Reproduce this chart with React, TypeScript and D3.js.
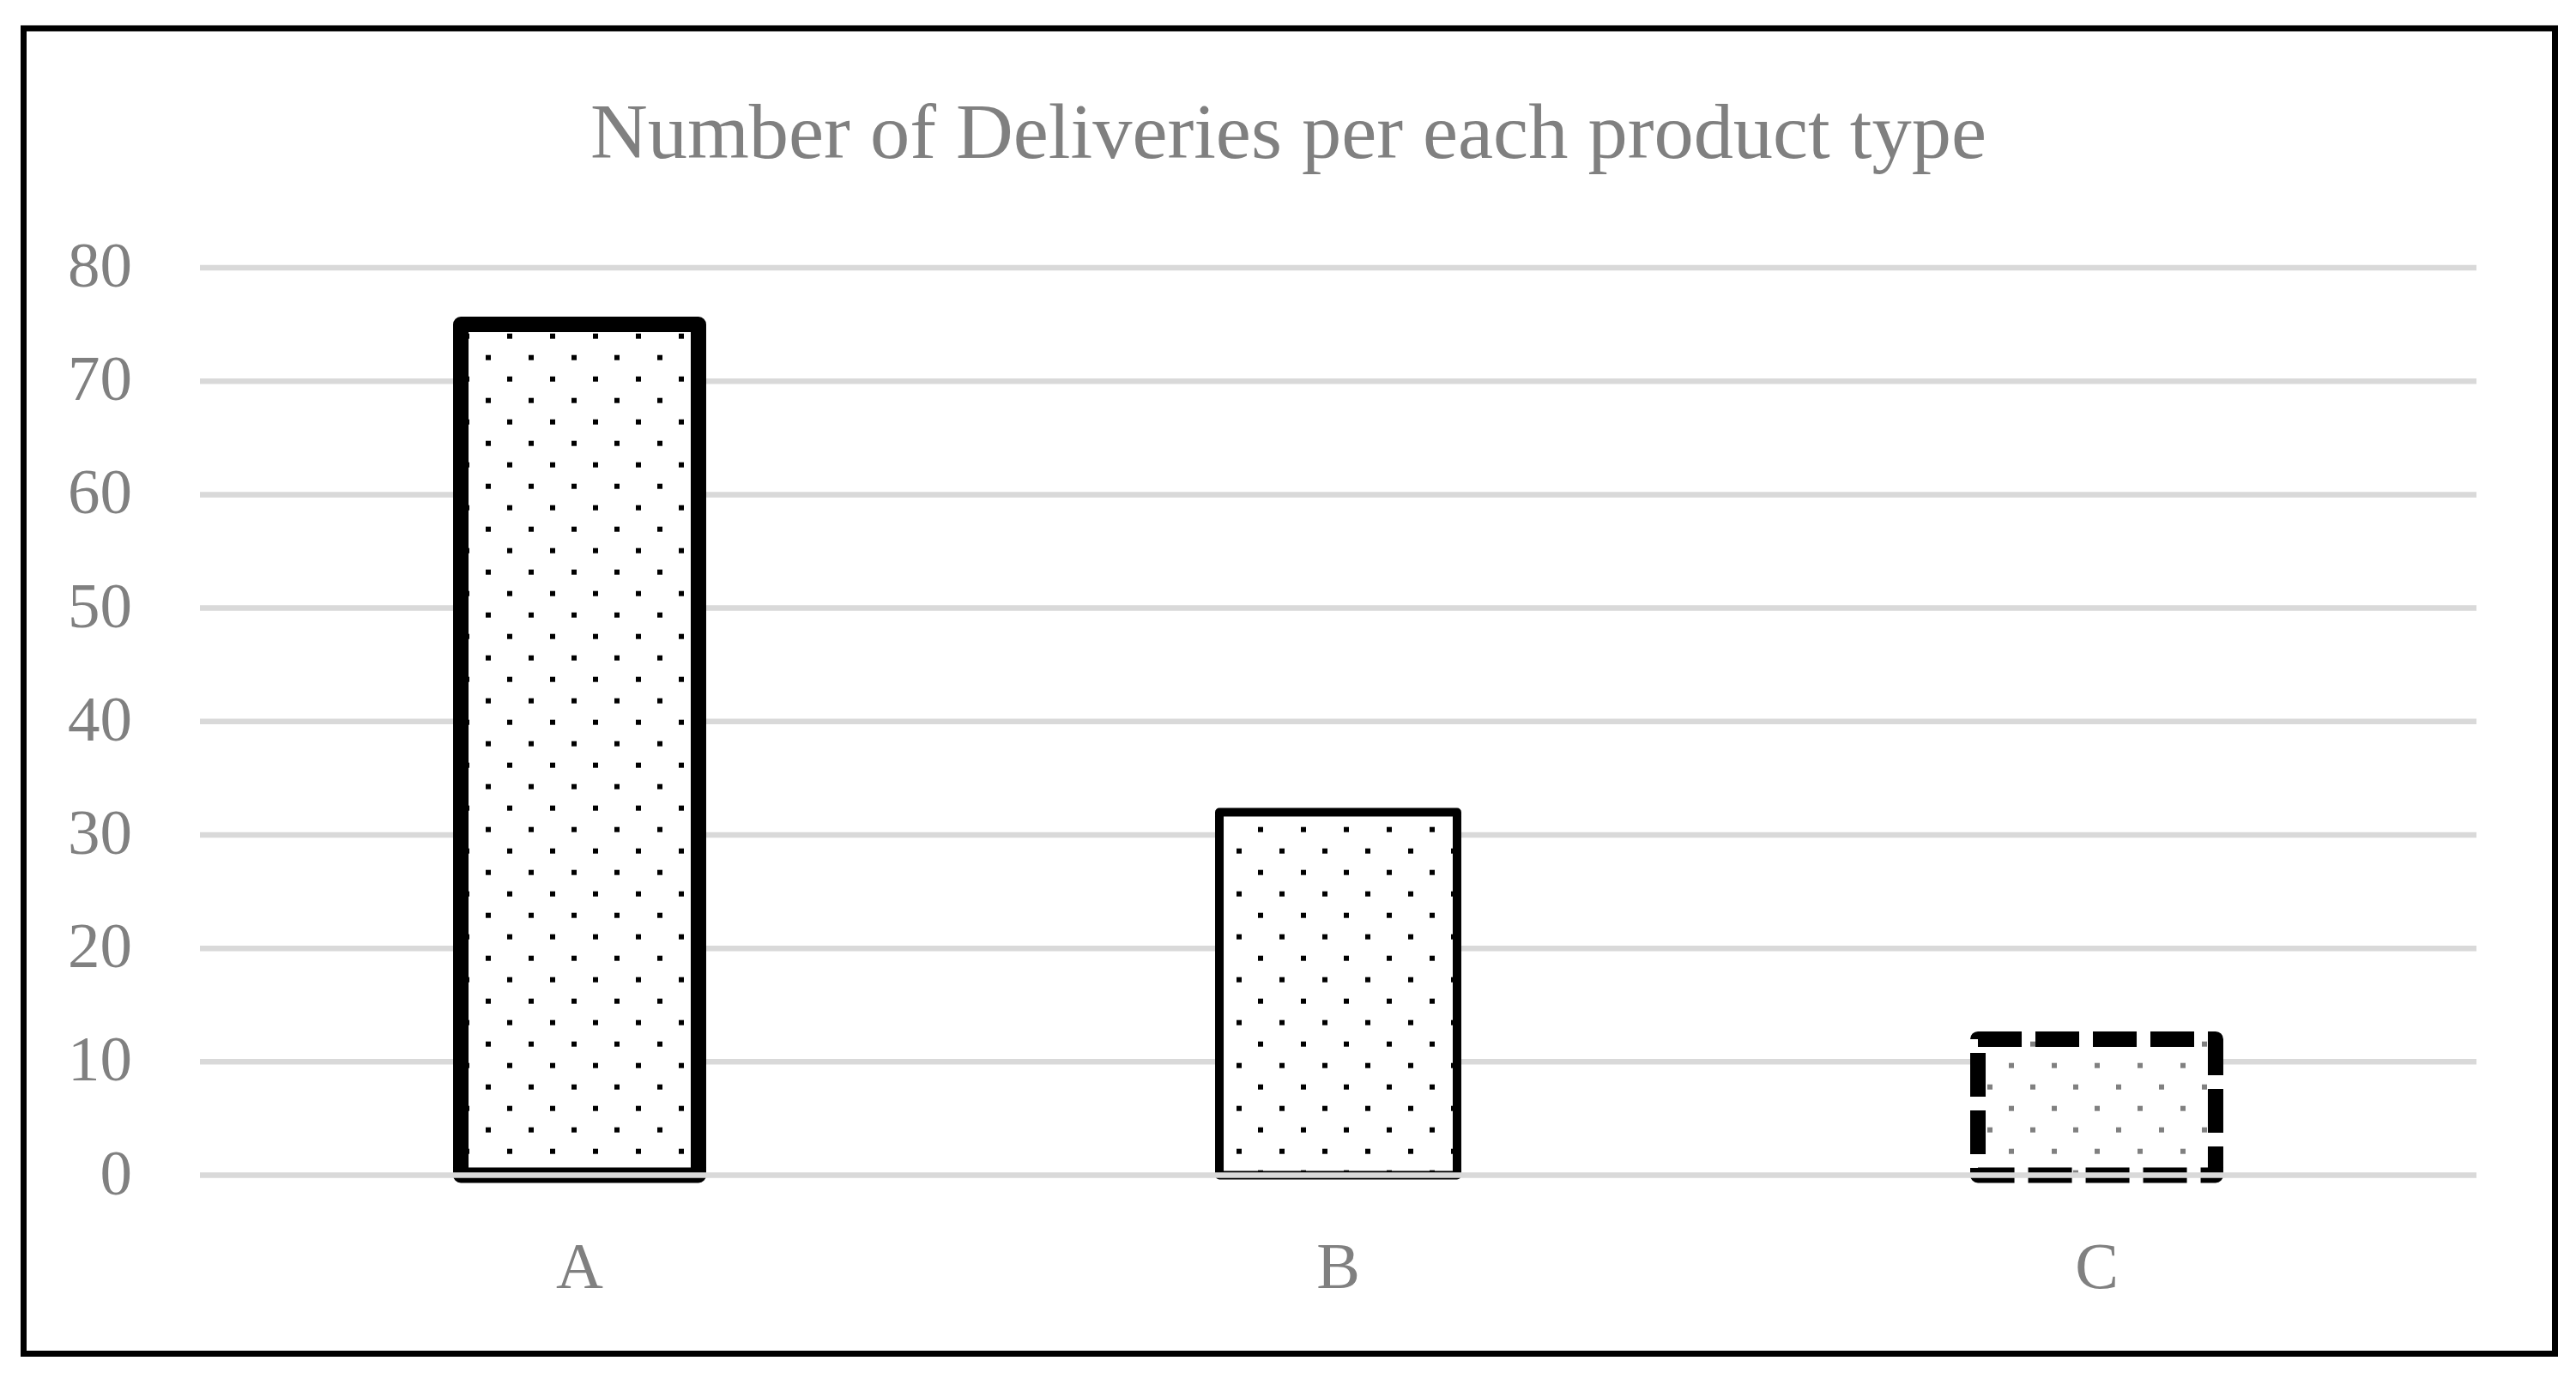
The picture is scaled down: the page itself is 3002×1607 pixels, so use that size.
import React from 'react';
import * as d3 from 'd3';

// ---- data ----
const categories: string[] = ['A', 'B', 'C'];
const deliveries: number[] = [75, 32, 12];
const yTicks: number[] = [0, 10, 20, 30, 40, 50, 60, 70, 80];
const chartTitle = 'Number of Deliveries per each product type';

// ---- per-bar styles ----
const barStyles = [
  { strokeWidth: 18, dash: undefined as string | undefined, pattern: 'dotsBlack' },
  { strokeWidth: 10, dash: undefined as string | undefined, pattern: 'dotsBlack' },
  { strokeWidth: 18, dash: '51 16', pattern: 'dotsGray' },
];

const W = 3002;
const H = 1607;
const gridLeft = 233;
const gridRight = 2886;
const FONT = '"Liberation Serif", "Times New Roman", serif';
const TEXT = '#808080';
const GRID = '#d9d9d9';

export default function App() {
  const x = d3
    .scaleBand<string>()
    .domain(categories)
    .range([233.5, 2885.5])
    .paddingInner(0.6867)
    .paddingOuter(0.6867 / 2);
  const y = d3.scaleLinear().domain([0, 80]).range([1369.5, 312]);

  const Dots = ({ id, color }: { id: string; color: string }) => (
    <pattern id={id} patternUnits="userSpaceOnUse" width={50} height={50}>
      <rect x={0} y={0} width={50} height={50} fill="#ffffff" />
      <rect x={41} y={38.7} width={6} height={6} fill={color} />
      <rect x={16} y={13.7} width={6} height={6} fill={color} />
    </pattern>
  );

  return (
    <svg
      width={W}
      height={H}
      viewBox={`0 0 ${W} ${H}`}
      style={{ position: 'absolute', left: 0, top: 0, display: 'block', background: '#ffffff' }}
    >
      <defs>
        <Dots id="dotsBlack" color="#000000" />
        <Dots id="dotsGray" color="#808080" />
      </defs>
      <rect x={0} y={0} width={W} height={H} fill="#ffffff" />
      {/* outer frame */}
      <rect x={27.5} y={33} width={2977.5 - 27.5} height={1577.5 - 33} fill="none" stroke="#000" strokeWidth={7} />

      {/* title */}
      <text
        x={1501.5}
        y={184}
        textAnchor="middle"
        fontFamily={FONT}
        fontSize={90}
        fill={TEXT}
        textLength={1627}
        lengthAdjust="spacingAndGlyphs"
      >
        {chartTitle}
      </text>

      {/* gridlines (except zero) */}
      {yTicks
        .filter((t) => t !== 0)
        .map((t) => (
          <line key={t} x1={gridLeft} x2={gridRight} y1={y(t)} y2={y(t)} stroke={GRID} strokeWidth={6.5} />
        ))}

      {/* y labels */}
      {yTicks.map((t) => (
        <text key={'yl' + t} x={154} y={y(t) + 22} textAnchor="end" fontFamily={FONT} fontSize={75} fill={TEXT}>
          {t}
        </text>
      ))}

      {/* bars */}
      {categories.map((c, i) => {
        const s = barStyles[i];
        const bx = x(c) as number;
        const by = y(deliveries[i]);
        return (
          <rect
            key={c}
            x={bx}
            y={by}
            width={x.bandwidth()}
            height={y(0) - by}
            fill={`url(#${s.pattern})`}
            stroke="#000"
            strokeWidth={s.strokeWidth}
            strokeDasharray={s.dash}
            strokeLinejoin="round"
          />
        );
      })}

      {/* zero axis line on top */}
      <line x1={gridLeft} x2={gridRight} y1={y(0)} y2={y(0)} stroke={GRID} strokeWidth={6.5} />

      {/* category labels */}
      {categories.map((c) => (
        <text
          key={'xl' + c}
          x={(x(c) as number) + x.bandwidth() / 2}
          y={1501}
          textAnchor="middle"
          fontFamily={FONT}
          fontSize={76}
          fill={TEXT}
        >
          {c}
        </text>
      ))}
    </svg>
  );
}
